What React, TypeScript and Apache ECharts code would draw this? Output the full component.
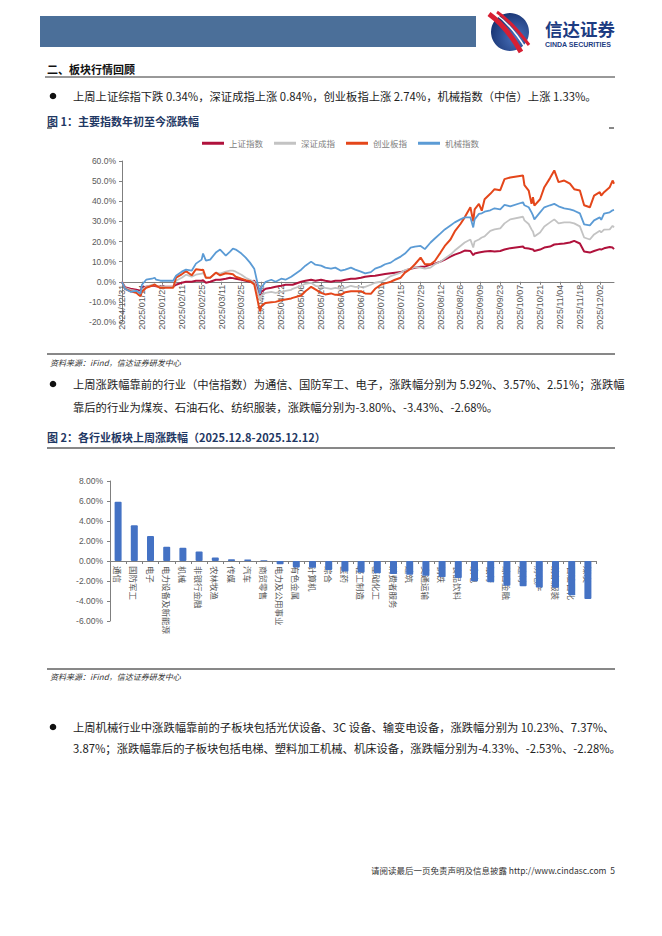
import React, { useEffect, useRef } from "react";
import * as echarts from "echarts";

// ---------- Figure 1 data: cumulative change since 2024/12/31 (%) ----------
const dates = [
  "2024/12/31", "2025/01/02", "2025/01/06", "2025/01/10", "2025/01/13", "2025/01/14", "2025/01/17",
  "2025/01/21", "2025/01/23", "2025/01/24", "2025/01/27", "2025/02/05", "2025/02/07", "2025/02/11",
  "2025/02/14", "2025/02/18", "2025/02/21", "2025/02/25", "2025/02/26", "2025/02/28", "2025/03/03",
  "2025/03/07", "2025/03/10", "2025/03/14", "2025/03/17", "2025/03/19", "2025/03/21", "2025/03/25",
  "2025/03/28", "2025/03/31", "2025/04/03", "2025/04/07", "2025/04/08", "2025/04/11", "2025/04/15",
  "2025/04/18", "2025/04/22", "2025/04/25", "2025/04/29", "2025/04/30", "2025/05/06", "2025/05/09",
  "2025/05/13", "2025/05/16", "2025/05/20", "2025/05/23", "2025/05/27", "2025/05/30", "2025/06/03",
  "2025/06/06", "2025/06/10", "2025/06/13", "2025/06/17", "2025/06/20", "2025/06/24", "2025/06/27",
  "2025/07/01", "2025/07/04", "2025/07/08", "2025/07/11", "2025/07/15", "2025/07/18", "2025/07/22",
  "2025/07/25", "2025/07/29", "2025/08/01", "2025/08/05", "2025/08/08", "2025/08/12", "2025/08/15",
  "2025/08/19", "2025/08/22", "2025/08/26", "2025/08/29", "2025/09/02", "2025/09/04", "2025/09/05",
  "2025/09/08", "2025/09/10", "2025/09/12", "2025/09/16", "2025/09/19", "2025/09/23", "2025/09/26",
  "2025/09/30", "2025/10/09", "2025/10/10", "2025/10/13", "2025/10/15", "2025/10/16", "2025/10/17",
  "2025/10/21", "2025/10/24", "2025/10/28", "2025/10/31", "2025/11/03", "2025/11/07", "2025/11/11",
  "2025/11/14", "2025/11/18", "2025/11/21", "2025/11/25", "2025/11/28", "2025/12/02", "2025/12/03",
  "2025/12/05", "2025/12/09", "2025/12/11", "2025/12/12",
];

const shIndex = [
  0, -2.7, -3.5, -4.0, -4.5, -3.0, -2.5, -2.0, -2.0, -2.3, -2.5, -2.5, -1.5, -0.5,
  0.0, 0.0, 0.5, 0.5, 0.8, -0.5, 0.0, 1.0, 1.0, 1.5, 2.0, 1.8, 1.5, 1.0,
  0.5, 0.0, 0.5, -6.5, -5.0, -3.5, -3.0, -2.5, -2.0, -1.5, -1.5, -1.5, 0.0, 0.5,
  1.0, 0.5, 1.0, 0.5, 0.0, 0.5, 0.5, 1.0, 1.5, 1.5, 2.0, 2.5, 2.8, 3.0,
  3.5, 3.8, 4.2, 4.5, 4.8, 5.5, 6.5, 7.0, 7.5, 7.5, 8.5, 9.0, 10.0, 11.0,
  12.5, 13.5, 14.5, 15.5, 15.3, 13.2, 14.0, 14.5, 14.8, 15.0, 15.3, 15.0, 15.3, 16.0,
  16.7, 17.5, 16.8, 16.5, 16.2, 16.0, 15.3, 16.0, 17.0, 17.5, 18.5, 18.7, 19.0, 19.5,
  20.3, 19.0, 15.0, 14.5, 15.3, 16.2, 16.0, 16.6, 17.3, 17.0, 16.2,
];

const szIndex = [
  0, -3.0, -4.0, -4.5, -5.5, -4.0, -2.5, -1.5, -1.5, -2.0, -2.5, -2.5, 0.5, 2.0,
  3.5, 2.5, 3.5, 4.0, 4.5, 2.0, 2.0, 4.5, 4.0, 5.0, 5.5, 5.5, 5.0, 3.5,
  2.0, 1.0, 0.0, -9.0, -7.0, -5.5, -5.0, -5.5, -5.0, -4.5, -4.0, -3.5, -2.0, -1.0,
  -0.5, -2.0, -2.5, -3.0, -3.5, -3.0, -3.5, -3.0, -2.0, -2.5, -2.5, -2.5, -1.5, -0.5,
  0.0, 1.0, 2.8, 3.5, 4.5, 5.8, 6.5, 7.3, 7.0, 6.5, 7.0, 8.7, 10.0, 11.5,
  13.5, 15.5, 17.8, 19.5, 21.0, 17.0, 20.0, 21.0, 22.0, 22.5, 25.3, 26.0, 26.5, 29.0,
  31.0, 32.3, 30.5, 28.7, 26.0, 25.0, 22.5, 24.5, 27.5, 29.5, 31.0, 29.0, 29.5, 29.5,
  29.0, 27.5, 22.0, 21.0, 23.5, 25.3, 24.5, 25.9, 26.0, 27.8, 27.0,
];

const cyIndex = [
  0, -3.5, -4.7, -5.5, -7.2, -5.0, -3.0, -2.0, -1.3, -2.0, -3.0, -3.0, 2.0, 3.7,
  5.3, 3.2, 6.2, 5.8, 6.0, 2.0, 2.0, 4.5, 3.2, 4.2, 4.0, 3.7, 2.5, 1.5,
  0.8, 0.3, -1.3, -14.7, -12.0, -10.5, -10.2, -10.0, -9.2, -8.8, -8.3, -8.0, -6.8, -4.7,
  -2.5, -3.8, -5.5, -6.3, -5.8, -6.5, -6.5, -5.2, -4.7, -4.7, -4.7, -5.8, -6.0, -3.5,
  -1.5, -0.8, 0.0, 1.0, 2.0, 4.5, 6.5, 8.7, 12.0, 8.7, 8.7, 10.3, 14.5, 17.8,
  21.0, 25.0, 28.7, 32.0, 37.0, 30.0, 36.0, 38.7, 35.3, 41.0, 43.7, 46.0, 45.5, 51.0,
  51.8, 52.8, 48.0, 45.3, 38.7, 42.0, 37.8, 41.0, 47.0, 51.5, 55.3, 49.5, 50.3, 48.7,
  46.0, 45.3, 38.0, 37.0, 42.8, 44.5, 42.8, 44.5, 47.0, 50.3, 48.7,
];

const jxIndex = [
  0, -3.5, -5.0, -4.5, -6.0, -1.5, 1.0, 1.5, 2.0, 1.0, 0.5, 0.5, 3.0, 5.0,
  6.0, 5.5, 9.0, 11.0, 14.0, 10.5, 11.0, 14.5, 16.0, 13.0, 15.0, 16.5, 16.0, 14.0,
  12.0, 9.5, 6.5, -6.0, -3.0, 0.0, 1.0, 0.0, 1.5, 1.0, 2.5, 3.0, 6.0, 8.0,
  10.0, 8.5, 8.0, 7.0, 6.5, 7.0, 5.5, 6.0, 7.0, 6.0, 5.0, 4.2, 4.8, 6.5,
  7.5, 8.7, 9.5, 11.0, 12.5, 14.0, 17.0, 17.5, 17.8, 16.2, 19.5, 21.5, 24.0, 26.0,
  28.0, 29.5, 31.0, 32.0, 32.0, 27.0, 31.0, 33.7, 34.0, 34.8, 35.5, 36.5, 36.0, 38.2,
  37.5, 39.5, 38.0, 37.0, 34.5, 33.0, 31.0, 34.5, 37.0, 38.0, 38.7, 37.5, 36.5, 36.0,
  35.3, 34.0, 28.5, 28.0, 30.5, 32.0, 30.8, 33.9, 34.5, 35.5, 35.7,
];

const lineNames = ["上证指数", "深证成指", "创业板指", "机械指数"];
const lineColors = ["#b0123c", "#c3c3c3", "#e4461a", "#5b9bd5"];

// ---------- Figure 2 data: weekly change by industry (%) ----------
const industries = [
  "通信", "国防军工", "电子", "电力设备及新能源", "机械", "非银行金融", "农林牧渔", "传媒", "汽车", "商贸零售",
  "电力及公用事业", "有色金属", "计算机", "综合", "医药", "轻工制造", "基础化工", "消费者服务", "建筑", "交通运输",
  "钢铁", "食品饮料", "家电", "银行", "综合金融", "建材", "房地产", "纺织服装", "石油石化", "煤炭",
];
const industryChange = [
  5.92, 3.57, 2.51, 1.42, 1.33, 0.94, 0.36, 0.17, 0.15, 0.07,
  -0.32, -0.64, -0.68, -0.9, -1.06, -1.16, -1.23, -1.29, -1.38, -1.48,
  -1.61, -1.71, -2.03, -2.13, -2.48, -2.52, -2.64, -2.68, -3.43, -3.8,
];

// ---------- page texts ----------
const sectionTitle = "二、板块行情回顾";
const para1 = "上周上证综指下跌 0.34%，深证成指上涨 0.84%，创业板指上涨 2.74%，机械指数（中信）上涨 1.33%。";
const fig1Title = "图 1：主要指数年初至今涨跌幅";
const sourceText = "资料来源：iFind，信达证券研发中心";
const para2 = [
  "上周涨跌幅靠前的行业（中信指数）为通信、国防军工、电子，涨跌幅分别为 5.92%、3.57%、2.51%；涨跌幅",
  "靠后的行业为煤炭、石油石化、纺织服装，涨跌幅分别为-3.80%、-3.43%、-2.68%。",
];
const fig2Title = "图 2：各行业板块上周涨跌幅（2025.12.8-2025.12.12）";
const para3 = [
  "上周机械行业中涨跌幅靠前的子板块包括光伏设备、3C 设备、输变电设备，涨跌幅分别为 10.23%、7.37%、",
  "3.87%；涨跌幅靠后的子板块包括电梯、塑料加工机械、机床设备，涨跌幅分别为-4.33%、-2.53%、-2.28%。",
];
const footer = "请阅读最后一页免责声明及信息披露 http://www.cindasc.com  5";

const BASE = Date.UTC(2024, 11, 31);
const DAY = 86400000;
function dayIndex(s: string): number {
  const [y, m, d] = s.split("/").map(Number);
  return Math.round((Date.UTC(y, m - 1, d) - BASE) / DAY);
}
function dayLabel(v: number): string {
  const dt = new Date(BASE + Math.round(v) * DAY);
  const mm = String(dt.getUTCMonth() + 1).padStart(2, "0");
  const dd = String(dt.getUTCDate()).padStart(2, "0");
  return `${dt.getUTCFullYear()}/${mm}/${dd}`;
}

const CJK = '"Noto Sans CJK SC", "Noto Sans", sans-serif';
const LAT = '"Liberation Sans", Arial, "Noto Sans CJK SC", sans-serif';

function txt(x: number, y: number, text: string, o: any = {}) {
  return {
    type: "text",
    x,
    y,
    silent: true,
    style: {
      text,
      fontSize: o.size ?? 11.3,
      fontFamily: o.family ?? CJK,
      fontWeight: o.weight ?? "normal",
      fontStyle: o.style ?? "normal",
      fill: o.color ?? "#222",
      textAlign: o.align ?? "left",
      textVerticalAlign: "middle",
      align: o.align ?? "left",
      verticalAlign: "middle",
    },
  };
}
function hline(x1: number, x2: number, y: number, w = 1, c = "#111") {
  return { type: "line", silent: true, shape: { x1, y1: y, x2, y2: y }, style: { stroke: c, lineWidth: w } };
}
function bullet(y: number) {
  return { type: "circle", silent: true, shape: { cx: 53, cy: y, r: 3.3 }, style: { fill: "#111" } };
}

// grid geometry
const G1 = { left: 122, top: 161, width: 492, height: 161 };
const G2 = { left: 110, top: 481, width: 486, height: 140 };
const Y1 = { min: -20, max: 60 };
const Y2 = { min: -6, max: 8 };
const zeroOffset1 = -(G1.height * (0 - Y1.min)) / (Y1.max - Y1.min);
const zeroOffset2 = -(G2.height * (0 - Y2.min)) / (Y2.max - Y2.min);

export default function App() {
  const ref = useRef<HTMLDivElement>(null);
  useEffect(() => {
    if (!ref.current) return;
    const chart = echarts.init(ref.current, undefined, { renderer: "svg" });
    const seriesData = [shIndex, szIndex, cyIndex, jxIndex];

    const graphic: any[] = [
      // header
      { type: "rect", silent: true, shape: { x: 40, y: 16, width: 436, height: 31 }, style: { fill: "#4b6f99" } },
      {
        type: "circle", silent: true, shape: { cx: 510, cy: 32, r: 19 },
        style: {
          fill: new echarts.graphic.RadialGradient(0.65, 0.65, 0.75, [
            { offset: 0, color: "#4a72bd" },
            { offset: 1, color: "#15306e" },
          ]),
        },
      },
      { type: "bezierCurve", silent: true, shape: { x1: 489, y1: 14, cpx1: 500, cpy1: 22, cpx2: 512, cpy2: 36, x2: 521, y2: 52 }, style: { stroke: "#d71f33", lineWidth: 5, fill: "none" } },
      { type: "bezierCurve", silent: true, shape: { x1: 494, y1: 13, cpx1: 506, cpy1: 21, cpx2: 517, cpy2: 34, x2: 526, y2: 49 }, style: { stroke: "#ffffff", lineWidth: 1.5, fill: "none" } },
      { type: "bezierCurve", silent: true, shape: { x1: 497, y1: 12, cpx1: 509, cpy1: 20, cpx2: 520, cpy2: 33, x2: 529, y2: 45 }, style: { stroke: "#d71f33", lineWidth: 3, fill: "none" } },
      txt(545, 28.5, "信达证券", { size: 17.5, weight: "bold", color: "#1d3c82" }),
      txt(545, 44, "CINDA SECURITIES", { size: 7, weight: "bold", family: LAT, color: "#1d3c82" }),
      // section
      txt(47, 69, sectionTitle, { size: 11, weight: "bold", color: "#111" }),
      hline(45, 615, 77, 1, "#333"),
      bullet(96),
      txt(73, 96, para1),
      txt(47, 121, fig1Title, { size: 11, weight: "bold", color: "#1f3864" }),
      hline(47, 52, 128, 1, "#111"),
      hline(609, 614, 128, 1, "#111"),
      hline(47, 615, 354, 1, "#111"),
      txt(50, 362, sourceText, { size: 8, style: "italic", color: "#333" }),
      bullet(384),
      txt(73, 384, para2[0]),
      txt(73, 407, para2[1]),
      txt(47, 437, fig2Title, { size: 11, weight: "bold", color: "#1f3864" }),
      hline(47, 615, 448, 1, "#111"),
      hline(47, 615, 669, 1, "#111"),
      txt(50, 676, sourceText, { size: 8, style: "italic", color: "#333" }),
      bullet(727),
      txt(73, 727, para3[0]),
      txt(73, 748, para3[1]),
      txt(615, 870, footer, { size: 8.5, align: "right", color: "#333" }),
    ];

    const option: any = {
      animation: false,
      backgroundColor: "#ffffff",
      textStyle: { fontFamily: LAT },
      legend: {
        data: lineNames,
        left: 197,
        top: 134,
        icon: "rect",
        itemWidth: 22,
        itemHeight: 3,
        itemGap: 11,
        textStyle: { fontSize: 8.5, color: "#808080", fontFamily: CJK },
      },
      grid: [G1, G2],
      xAxis: [
        {
          type: "value",
          gridIndex: 0,
          min: 0,
          max: 346,
          interval: 14,
          position: "bottom",
          offset: zeroOffset1,
          axisLine: { onZero: false, lineStyle: { color: "#7f7f7f", width: 1 } },
          axisTick: { show: true, length: 3, lineStyle: { color: "#7f7f7f" } },
          axisLabel: {
            rotate: 90,
            fontSize: 9,
            color: "#595959",
            margin: 3,
            showMaxLabel: false,
            formatter: (v: number) => dayLabel(v),
          },
          splitLine: { show: false },
        },
        {
          type: "category",
          gridIndex: 1,
          data: industries,
          position: "bottom",
          offset: zeroOffset2,
          axisLine: { onZero: false, lineStyle: { color: "#7f7f7f", width: 1 } },
          axisTick: { show: true, length: 3, lineStyle: { color: "#7f7f7f" } },
          axisLabel: { interval: 0, rotate: -90, fontSize: 8.5, color: "#595959", margin: 5, fontFamily: CJK },
          splitLine: { show: false },
        },
      ],
      yAxis: [
        {
          type: "value",
          gridIndex: 0,
          min: Y1.min,
          max: Y1.max,
          interval: 10,
          axisLine: { show: true, lineStyle: { color: "#7f7f7f", width: 1 } },
          axisTick: { show: true, length: 3, lineStyle: { color: "#7f7f7f" } },
          axisLabel: { fontSize: 8.5, color: "#595959", margin: 6, formatter: (v: number) => v.toFixed(1) + "%" },
          splitLine: { show: false },
        },
        {
          type: "value",
          gridIndex: 1,
          min: Y2.min,
          max: Y2.max,
          interval: 2,
          axisLine: { show: true, lineStyle: { color: "#7f7f7f", width: 1 } },
          axisTick: { show: true, length: 3, lineStyle: { color: "#7f7f7f" } },
          axisLabel: { fontSize: 8.5, color: "#595959", margin: 7, formatter: (v: number) => v.toFixed(2) + "%" },
          splitLine: { show: false },
        },
      ],
      series: [
        ...lineNames.map((name, k) => ({
          name,
          type: "line",
          xAxisIndex: 0,
          yAxisIndex: 0,
          symbol: "none",
          color: lineColors[k],
          lineStyle: { width: k === 1 || k === 3 ? 1.8 : 2, color: lineColors[k] },
          data: dates.map((d, i) => [dayIndex(d), seriesData[k][i]]),
          z: 3 + k,
        })),
        {
          name: "涨跌幅",
          type: "bar",
          xAxisIndex: 1,
          yAxisIndex: 1,
          barWidth: 7,
          itemStyle: { color: "#4472c4", borderRadius: 1 },
          data: industryChange,
        },
      ],
      graphic,
    };
    chart.setOption(option);
    return () => chart.dispose();
  }, []);
  return (
    <div
      ref={ref}
      style={{ position: "absolute", left: 0, top: 0, width: 662, height: 936, background: "#fff" }}
    />
  );
}
